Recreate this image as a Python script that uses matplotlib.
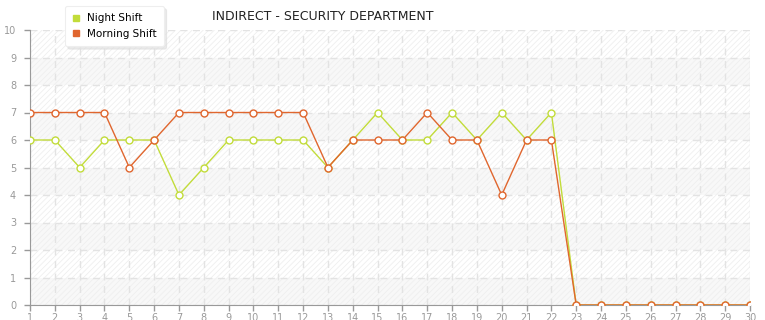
import numpy as np
import matplotlib.pyplot as plt
from matplotlib.lines import Line2D
from matplotlib.patches import Rectangle

# days of the month
days = list(range(1, 31))

# headcount per shift
night_shift = [6, 6, 5, 6, 6, 6, 4, 5, 6, 6, 6, 6, 5, 6, 7, 6, 6, 7, 6, 7, 6, 7,
               0, 0, 0, 0, 0, 0, 0, 0]
morning_shift = [7, 7, 7, 7, 5, 6, 7, 7, 7, 7, 7, 7, 5, 6, 6, 6, 7, 6, 6, 4, 6, 6,
                 0, 0, 0, 0, 0, 0, 0, 0]

night_color = '#c2dc3a'
morning_color = '#e0662e'

plt.rcParams['hatch.linewidth'] = 0.6

fig = plt.figure(figsize=(7.65, 3.2), dpi=100)
ax = fig.add_axes([30 / 765, 15 / 320, 720 / 765, 275 / 320])

ax.set_xlim(1, 30)
ax.set_ylim(0, 10)

# alternating bands plus light hatching
for y0 in range(0, 10, 2):
    ax.add_patch(Rectangle((1, y0), 29, 1, facecolor='#f8f8f8', edgecolor='none', zorder=0))
ax.add_patch(Rectangle((1, 0), 29, 10, facecolor='none', edgecolor='#efefef',
                       hatch='//////', linewidth=0, zorder=0.5))

ax.grid(True, linestyle=(0, (5, 4)), color='#e3e3e3', linewidth=1, zorder=1)

ax.plot(days, night_shift, color=night_color, linewidth=1, marker='o', markersize=5,
        markerfacecolor='white', markeredgecolor=night_color, markeredgewidth=1, zorder=3)
ax.plot(days, morning_shift, color=morning_color, linewidth=1, marker='o', markersize=5,
        markerfacecolor='white', markeredgecolor=morning_color, markeredgewidth=1, zorder=4)

ax.set_xticks(days)
ax.set_yticks(range(0, 11))
ax.tick_params(colors='#999999', labelcolor='#999999', labelsize=7, length=4, width=1, pad=2)
ax.tick_params(axis='y', pad=6)
for side in ['top', 'right']:
    ax.spines[side].set_visible(False)
for side in ['left', 'bottom']:
    ax.spines[side].set_color('#999999')

fig.text(323 / 765, 1 - 17 / 320, 'INDIRECT - SECURITY DEPARTMENT', ha='center', va='center',
         fontsize=9, color='#222222')

handles = [Line2D([], [], color=night_color, marker='s', linestyle='none', markersize=4),
           Line2D([], [], color=morning_color, marker='s', linestyle='none', markersize=4)]
leg = fig.legend(handles, ['Night Shift', 'Morning Shift'], loc='upper left',
                 bbox_to_anchor=(65 / 765, 1 - 6 / 320), fontsize=7.5, frameon=True,
                 fancybox=True, shadow={'color': '#dddddd', 'alpha': 0.6}, handlelength=0.8,
                 handletextpad=0.6, borderpad=0.7, borderaxespad=0, labelspacing=0.55,
                 edgecolor='#eeeeee')
leg.get_frame().set_linewidth(0.8)
leg.set_zorder(10)

fig.savefig('out.png', dpi=100)
